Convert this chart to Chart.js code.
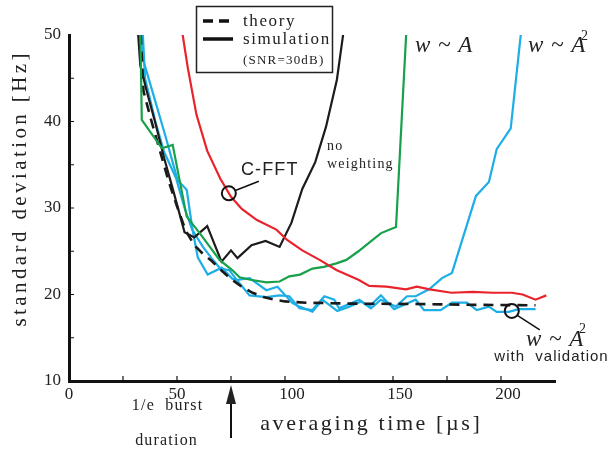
<!DOCTYPE html>
<html>
<head>
<meta charset="utf-8">
<script src="https://cdn.jsdelivr.net/npm/chart.js@4.4.1/dist/chart.umd.min.js"></script>
<style>
  html, body { margin: 0; padding: 0; background: #fff; }
  canvas { display: block; }
</style>
</head>
<body>
<canvas id="chart" width="611" height="456"></canvas>
<script>
// Axis tick labels
const xTickValues = [0, 50, 100, 150, 200];
const yTickValues = [10, 20, 30, 40, 50];
const xMinorTicks = [25, 50, 75, 100, 125, 150, 175, 200];
const yMinorTicks = [15, 20, 25, 30, 35, 40, 45];

// Theory (dashed) — standard deviation [Hz] vs averaging time [µs]
const theory = [[32.8,52],[34.5,43.5],[38,40.2],[42,36.7],[46,33.2],[50,30.2],[54,27.4],[58,25.7],
  [62,24.7],[66,23.9],[70,22.9],[75,21.8],[80,20.9],[85,20.2],[90,19.7],[95,19.4],[100,19.2],
  [110,19.05],[130,18.95],[160,18.9],[190,18.8],[216,18.75]];

// Simulation, no weighting
const noWeighting = [[31.5,52],[33,46.5],[36,43.5],[40,39.8],[44,35.8],[47.5,32.7],[53.5,27.2],
  [58,26.6],[64,27.9],[70.6,23.8],[75,25.1],[78,24.2],[84.5,25.7],[91,26.2],[97.5,25.5],
  [103,28.3],[108,32.2],[114,35.3],[119,39.4],[124,44.8],[128,52]];

// Simulation, C-FFT
const cfft = [[52,51],[55,46.2],[59,40.8],[64,36.6],[70,33.4],[75,31.3],[80,29.9],[87,28.6],
  [96,27.5],[101,26.3],[108,25.1],[116,24],[124,22.8],[134,21.7],[139,21],[147,20.9],
  [156,20.6],[161,20.9],[167,20.6],[177,20.2],[187,20.3],[196,20.2],[205,20.2],[210,20],
  [216,19.4],[221,19.9]];

// Simulation, w ~ A
const weightA = [[32.8,54],[33.7,40.2],[43,36.9],[48,37.3],[54.5,29],[60.5,27.1],[69.7,24],
  [75.7,22.8],[79,22],[84,21.7],[91.4,21.4],[97.5,21.5],[102,22.1],[107,22.3],[112.7,23],
  [118,23.2],[123.8,23.6],[128.4,24],[134,25],[139,26],[144.5,27.1],[151.4,27.8],[156.5,52]];

// Simulation, w ~ A^2
const weightA2 = [[33.3,52],[34.5,47],[40,42.3],[45,38],[50.3,33.2],[54.5,32.1],[57,27.8],
  [59.6,24.3],[64.2,22.3],[70.7,23.1],[75.7,21.8],[78,21.7],[83.6,21.9],[91.4,20.5],[96.5,20.9],
  [103.5,19],[106.7,18.6],[112.7,18],[117.3,19.4],[124.2,18.1],[129.8,18.6],[135.2,19.2],
  [139.8,18.4],[144.4,19.4],[151.3,18.6],[156.5,19.8],[160.5,19.8],[166.7,20.6],[172.7,21.9],
  [177.3,22.5],[188.4,31.4],[194.4,33],[198,36.8],[204.5,39.2],[210,52]];

// Simulation, w ~ A^2 with validation
const weightA2Valid = [[33.8,52],[35.2,45],[40,40],[44,36.5],[49.5,33.5],[53.5,30],[57,27.5],
  [62,25.5],[66,24.2],[70,23],[74.3,22.8],[77.6,21.7],[83.6,19.9],[91.4,19.7],[97.5,19.9],
  [102,19.8],[106.7,18.4],[112.7,18.2],[118.2,19.8],[122.8,19.4],[125,18.4],[134.4,19.4],
  [139,18.6],[144.4,19.9],[150.5,18.3],[160.5,19.4],[164.4,18.2],[172,18.2],[177.3,19.05],
  [184.2,19.05],[188.8,18.2],[194.4,18.6],[198,18],[203.6,18],[208.2,18.3],[216,18.3]];

// Annotation anchors (data units)
const cfftMarker = [74, 31.7];
const validMarker = [205, 18.1];
const burstDuration = 75;

const toXY = pts => pts.map(p => ({ x: p[0], y: p[1] }));
const SERIF = '"Liberation Serif", "DejaVu Serif", serif';
const SANS = '"Liberation Sans", Arial, sans-serif';

function spacedText(ctx, text, x, y, font, spacing, align) {
  ctx.save();
  ctx.font = font;
  ctx.letterSpacing = spacing + 'px';
  const w = ctx.measureText(text).width - spacing;
  ctx.textAlign = 'left';
  let sx = x;
  if (align === 'center') sx = x - w / 2;
  else if (align === 'right') sx = x - w;
  ctx.fillText(text, sx, y);
  ctx.restore();
}

const decorations = {
  id: 'decorations',
  afterDraw(chart) {
    const { ctx, scales: { x, y } } = chart;
    ctx.save();
    ctx.fillStyle = '#222';
    ctx.strokeStyle = '#111';

    // inward tick marks
    ctx.lineWidth = 1.2;
    ctx.beginPath();
    xMinorTicks.forEach(v => {
      const px = x.getPixelForValue(v);
      ctx.moveTo(px, y.bottom); ctx.lineTo(px, y.bottom - 5);
    });
    yMinorTicks.forEach(v => {
      const py = y.getPixelForValue(v);
      ctx.moveTo(x.left, py); ctx.lineTo(x.left + 5, py);
    });
    ctx.stroke();

    // x tick labels, set slightly right of their tick marks
    ctx.textBaseline = 'middle';
    xTickValues.forEach(v => {
      const shift = v >= 100 ? 7 : 0;
      spacedText(ctx, String(v), x.getPixelForValue(v) + shift, 395, '17px ' + SERIF, 0, 'center');
    });

    // axis titles
    ctx.save();
    ctx.translate(20, 190);
    ctx.rotate(-Math.PI / 2);
    spacedText(ctx, 'standard deviation [Hz]', 0, 0, '21px ' + SERIF, 3.4, 'center');
    ctx.restore();
    spacedText(ctx, 'averaging time [\u00b5s]', 370, 424, '22px ' + SERIF, 2.6, 'center');

    // burst duration arrow
    const ax = x.getPixelForValue(burstDuration);
    ctx.lineWidth = 2;
    ctx.beginPath();
    ctx.moveTo(ax, 438); ctx.lineTo(ax, 398);
    ctx.stroke();
    ctx.beginPath();
    ctx.moveTo(ax, 385); ctx.lineTo(ax - 5, 404); ctx.lineTo(ax + 5, 404); ctx.closePath();
    ctx.fill();
    spacedText(ctx, '1/e  burst', 167, 406, '16px ' + SERIF, 1.2, 'center');
    spacedText(ctx, 'duration', 166, 441, '16px ' + SERIF, 1.2, 'center');

    // legend box
    ctx.lineWidth = 1.5;
    ctx.strokeStyle = '#222';
    ctx.strokeRect(196.5, 6.5, 136, 66);
    ctx.lineWidth = 3.5;
    ctx.strokeStyle = '#111';
    ctx.beginPath();
    ctx.moveTo(203, 21); ctx.lineTo(213, 21);
    ctx.moveTo(219, 21); ctx.lineTo(229, 21);
    ctx.moveTo(203, 39); ctx.lineTo(233, 39);
    ctx.stroke();
    ctx.textBaseline = 'alphabetic';
    spacedText(ctx, 'theory', 243, 26, '17px ' + SERIF, 1.6, 'left');
    spacedText(ctx, 'simulation', 243, 44, '17px ' + SERIF, 1.6, 'left');
    spacedText(ctx, '(SNR=30dB)', 243, 64, '13px ' + SERIF, 1.2, 'left');

    // curve labels
    const italic = 'italic 23px ' + SERIF;
    spacedText(ctx, 'w ~ A', 415, 52, italic, 1, 'left');
    spacedText(ctx, 'w ~ A', 528, 52, italic, 1, 'left');
    spacedText(ctx, '2', 581, 40, '14px ' + SERIF, 0, 'left');
    spacedText(ctx, 'no', 327, 150, '14px ' + SERIF, 1.2, 'left');
    spacedText(ctx, 'weighting', 327, 168, '14px ' + SERIF, 1.2, 'left');
    spacedText(ctx, 'C-FFT', 241, 175, '18px ' + SANS, 1.1, 'left');
    spacedText(ctx, 'w ~ A', 526, 346, italic, 1, 'left');
    spacedText(ctx, '2', 579, 333, '14px ' + SERIF, 0, 'left');
    spacedText(ctx, 'with  validation', 551, 361, '15px ' + SANS, 1, 'center');

    // markers with leader lines
    ctx.strokeStyle = '#111';
    ctx.lineWidth = 2;
    const m1x = x.getPixelForValue(cfftMarker[0]), m1y = y.getPixelForValue(cfftMarker[1]);
    ctx.beginPath(); ctx.arc(m1x, m1y, 7, 0, Math.PI * 2); ctx.stroke();
    ctx.lineWidth = 1.5;
    ctx.beginPath(); ctx.moveTo(m1x + 6.5, m1y - 2.8); ctx.lineTo(m1x + 30, m1y - 12); ctx.stroke();
    const m2x = x.getPixelForValue(validMarker[0]), m2y = y.getPixelForValue(validMarker[1]);
    ctx.lineWidth = 2;
    ctx.beginPath(); ctx.arc(m2x, m2y, 7, 0, Math.PI * 2); ctx.stroke();
    ctx.lineWidth = 1.5;
    ctx.beginPath(); ctx.moveTo(m2x + 5.5, m2y + 4.5); ctx.lineTo(m2x + 28, m2y + 19); ctx.stroke();

    ctx.restore();
  }
};

const line = (data, color, width, dash) => ({
  data: toXY(data),
  borderColor: color,
  borderWidth: width,
  borderDash: dash || [],
  pointRadius: 0,
  tension: 0,
  fill: false
});

new Chart(document.getElementById('chart'), {
  type: 'line',
  data: {
    datasets: [
      line(cfft, '#e8232b', 2.2),
      line(weightA, '#18a04a', 2.2),
      line(noWeighting, '#1c1c1c', 2.2),
      line(theory, '#1a1a1a', 2.6, [10, 7]),
      line(weightA2Valid, '#1eaee6', 2.2),
      line(weightA2, '#1eaee6', 2.2)
    ]
  },
  options: {
    responsive: false,
    animation: false,
    devicePixelRatio: 1,
    layout: { padding: { left: 0, top: 35, right: 56, bottom: 0 } },
    plugins: { legend: { display: false }, tooltip: { enabled: false } },
    scales: {
      x: {
        type: 'linear',
        min: 0, max: 225,
        afterFit: s => { s.height = 75; },
        afterBuildTicks: s => { s.ticks = xTickValues.map(v => ({ value: v })); },
        grid: { display: false, drawTicks: false },
        border: { display: true, color: '#111', width: 3 },
        ticks: { display: false }
      },
      y: {
        type: 'linear',
        min: 10, max: 50,
        afterFit: s => { s.width = 69; },
        afterBuildTicks: s => { s.ticks = yTickValues.map(v => ({ value: v })); },
        grid: { display: false, drawTicks: false },
        border: { display: true, color: '#111', width: 3 },
        ticks: { color: '#222', padding: 8, font: { family: SERIF, size: 17 } }
      }
    }
  },
  plugins: [decorations]
});
</script>
</body>
</html>
